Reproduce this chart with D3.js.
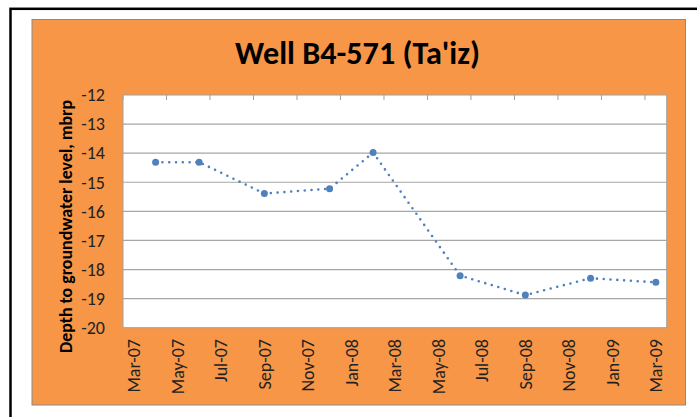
<!DOCTYPE html>
<html><head><meta charset="utf-8">
<script src="https://cdn.jsdelivr.net/npm/d3@7/dist/d3.min.js"></script>
<style>html,body{margin:0;padding:0;background:#fff;overflow:hidden}</style>
</head><body>
<svg id="c" width="697" height="417"></svg>
<script>
const title = "Well B4-571 (Ta'iz)";
const yTitle = "Depth to groundwater level, mbrp";
const dates = ["2007-04","2007-06","2007-09","2007-12","2008-02","2008-06","2008-09","2008-12","2009-03"];
const depths = [-14.31,-14.31,-15.39,-15.22,-13.98,-18.21,-18.88,-18.30,-18.44];
const yTicks = [-12,-13,-14,-15,-16,-17,-18,-19,-20];
const axisStart = "2007-03", axisEnd = "2009-03";

const font = "Carlito, Calibri, Lato, 'Open Sans', sans-serif";
const parse = d3.timeParse("%Y-%m");
const fmt = d3.timeFormat("%b-%y");
const months = d3.timeMonth.range(parse(axisStart), d3.timeMonth.offset(parse(axisEnd),1));

const svg = d3.select("#c");
svg.append("rect").attr("x",10.5).attr("y",8.8).attr("width",720).attr("height",440)
  .attr("fill","#fff").attr("stroke","#000").attr("stroke-width",2.5);
svg.append("rect").attr("x",32).attr("y",19.5).attr("width",653.5).attr("height",385.5)
  .attr("fill","#F79646").attr("stroke","#8a8a8a").attr("stroke-width",1);

const L=123, R=666.7, T=95, B=327.7;
svg.append("rect").attr("x",L).attr("y",T).attr("width",R-L).attr("height",B-T)
  .attr("fill","#fff").attr("stroke","#a0a0a0").attr("stroke-width",1);

const x = d3.scaleBand().domain(months.map(fmt)).range([L,R]).padding(0);
const y = d3.scaleLinear().domain([-20,-12]).range([B,T]);
const cx = d => x(fmt(parse(d))) + x.bandwidth()/2;

svg.append("g").selectAll("line").data(yTicks.filter(v=>v!==-12 && v!==-20)).join("line")
  .attr("x1",L).attr("x2",R).attr("y1",d=>y(d)).attr("y2",d=>y(d))
  .attr("stroke","#a6a6a6").attr("stroke-width",1.2);

const labelMonths = months.filter((m,i)=>i%2===0);
svg.append("g").selectAll("line").data(labelMonths).join("line")
  .attr("x1",d=>x(fmt(d))).attr("x2",d=>x(fmt(d))).attr("y1",T).attr("y2",T+5)
  .attr("stroke","#a0a0a0").attr("stroke-width",1);

svg.append("g").selectAll("text").data(yTicks).join("text")
  .attr("x",105).attr("y",d=>y(d)).attr("dy","0.35em").attr("text-anchor","end")
  .attr("font-family",font).attr("font-size",18).attr("fill","#222")
  .text(d=>d);

svg.append("g").selectAll("text").data(labelMonths).join("text")
  .attr("transform",d=>`translate(${x(fmt(d))+x.bandwidth()/2},339) rotate(-90)`)
  .attr("dy","0.35em").attr("text-anchor","end")
  .attr("font-family",font).attr("font-size",18).attr("fill","#222")
  .text(d=>fmt(d));

const pts = dates.map((d,i)=>[cx(d), y(depths[i])]);
svg.append("path").attr("d",d3.line()(pts)).attr("fill","none")
  .attr("stroke","#4F81BD").attr("stroke-width",2.6).attr("stroke-linecap","round")
  .attr("stroke-dasharray","0,6.8");
svg.append("g").selectAll("circle").data(pts).join("circle")
  .attr("cx",d=>d[0]).attr("cy",d=>d[1]).attr("r",3.5).attr("fill","#4F81BD");

function fit(sel, w){ let fs=+sel.attr("font-size"); const len=sel.node().getComputedTextLength(); sel.attr("font-size", fs*w/len); }
const t = svg.append("text").attr("x",357.5).attr("y",64).attr("text-anchor","middle")
  .attr("font-family",font).attr("font-weight","bold").attr("font-size",28).attr("fill","#000").text(title);
fit(t,245);
const yt = svg.append("text").attr("transform","translate(66,226.5) rotate(-90)")
  .attr("dy","0.35em").attr("text-anchor","middle")
  .attr("font-family",font).attr("font-weight","bold").attr("font-size",15).attr("fill","#000").text(yTitle);
fit(yt,253);
</script>
</body></html>
